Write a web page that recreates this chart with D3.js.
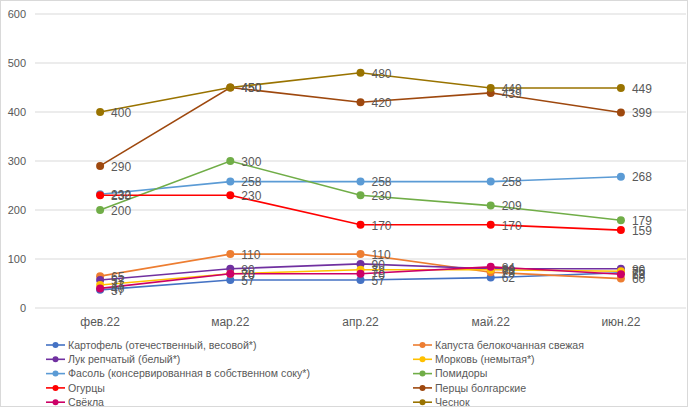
<!DOCTYPE html>
<html>
<head>
<meta charset="utf-8">
<script src="https://cdn.jsdelivr.net/npm/d3@7"></script>
<style>
  body { margin: 0; background: #fff; }
</style>
</head>
<body>
<div id="chart"></div>
<script>
// categories and series
const months = ["фев.22", "мар.22", "апр.22", "май.22", "июн.22"];
const yTicks = [0, 100, 200, 300, 400, 500, 600];

const names = [
  "Картофель (отечественный, весовой*)",
  "Капуста белокочанная свежая",
  "Лук репчатый (белый*)",
  "Морковь (немытая*)",
  "Фасоль (консервированная в собственном соку*)",
  "Помидоры",
  "Огурцы",
  "Перцы болгарские",
  "Свёкла",
  "Чеснок"
];
const colors = ["#4472C4", "#ED7D31", "#7030A0", "#FFC000", "#5B9BD5",
                "#70AD47", "#FF0000", "#9E480E", "#CC0066", "#997300"];

const potato  = [37, 57, 57, 62, 72];
const cabbage = [65, 110, 110, 73, 60];
const onion   = [57, 80, 90, 80, 80];
const carrot  = [47, 70, 78, 78, 75];
const beans   = [232, 258, 258, 258, 268];
const tomato  = [200, 300, 230, 209, 179];
const cucumber = [230, 230, 170, 170, 159];
const pepper  = [290, 450, 420, 439, 399];
const beet    = [40, 70, 70, 84, 69];
const garlic  = [400, 450, 480, 449, 449];

const values = [potato, cabbage, onion, carrot, beans, tomato, cucumber, pepper, beet, garlic];
// draw order (later on top), like Excel
const series = names.map((n, i) => ({name: n, color: colors[i], values: values[i]}));

const width = 700, height = 409;
const marginLeft = 35, marginRight = 14, marginTop = 14, marginBottom = 101;
const font = "'Liberation Sans', sans-serif";

const x = d3.scaleBand()
  .domain(months)
  .range([marginLeft, width - marginRight]);

const y = d3.scaleLinear()
  .domain([0, 600])
  .range([height - marginBottom, marginTop]);

const svg = d3.create("svg")
  .attr("width", width)
  .attr("height", height)
  .attr("viewBox", [0, 0, width, height]);

// outer chart border
svg.append("rect")
  .attr("x", 0.5).attr("y", 0.5)
  .attr("width", 687).attr("height", 406)
  .attr("fill", "#fff")
  .attr("stroke", "#d9d9d9");

// gridlines
svg.append("g")
  .selectAll("line")
  .data(yTicks)
  .join("line")
    .attr("x1", marginLeft)
    .attr("x2", width - marginRight)
    .attr("y1", d => y(d))
    .attr("y2", d => y(d))
    .attr("stroke", "#d9d9d9")
    .attr("stroke-width", 1);

// y labels
svg.append("g")
  .selectAll("text")
  .data(yTicks)
  .join("text")
    .attr("x", 26)
    .attr("y", d => y(d))
    .attr("dy", "0.35em")
    .attr("text-anchor", "end")
    .attr("fill", "#595959")
    .style("font-family", font)
    .style("font-size", "11px")
    .text(d => d);

// x labels
svg.append("g")
  .selectAll("text")
  .data(months)
  .join("text")
    .attr("x", d => x(d) + x.bandwidth() / 2)
    .attr("y", y(0) + 18)
    .attr("text-anchor", "middle")
    .attr("fill", "#595959")
    .style("font-family", font)
    .style("font-size", "12px")
    .text(d => d);

const cx = (d, i) => x(months[i]) + x.bandwidth() / 2;
const line = d3.line()
  .x((d, i) => cx(d, i))
  .y(d => y(d));

const g = svg.append("g");
series.forEach(s => {
  g.append("path")
    .attr("d", line(s.values))
    .attr("fill", "none")
    .attr("stroke", s.color)
    .attr("stroke-width", 1.6);
  g.selectAll(null)
    .data(s.values)
    .join("circle")
      .attr("cx", (d, i) => cx(d, i))
      .attr("cy", d => y(d))
      .attr("r", 4)
      .attr("fill", s.color);
});

// data labels
series.forEach(s => {
  svg.append("g")
    .selectAll("text")
    .data(s.values)
    .join("text")
      .attr("x", (d, i) => cx(d, i) + 11)
      .attr("y", d => y(d))
      .attr("dy", "0.4em")
      .attr("fill", "#595959")
      .style("font-family", font)
      .style("font-size", "12px")
      .text(d => d);
});

// legend, two columns
const legend = svg.append("g");
series.forEach((s, i) => {
  const lx = i % 2 === 0 ? 46 : 413;
  const ly = 345 + Math.floor(i / 2) * 14.3;
  const item = legend.append("g").attr("transform", `translate(${lx},${ly})`);
  item.append("line")
    .attr("x1", 0).attr("x2", 19)
    .attr("stroke", s.color)
    .attr("stroke-width", 1.6);
  item.append("circle")
    .attr("cx", 9.5).attr("r", 3)
    .attr("fill", s.color);
  item.append("text")
    .attr("x", 22)
    .attr("dy", "0.35em")
    .attr("fill", "#595959")
    .style("font-family", font)
    .style("font-size", "10.6px")
    .text(s.name);
});

document.getElementById("chart").append(svg.node());
</script>
</body>
</html>
